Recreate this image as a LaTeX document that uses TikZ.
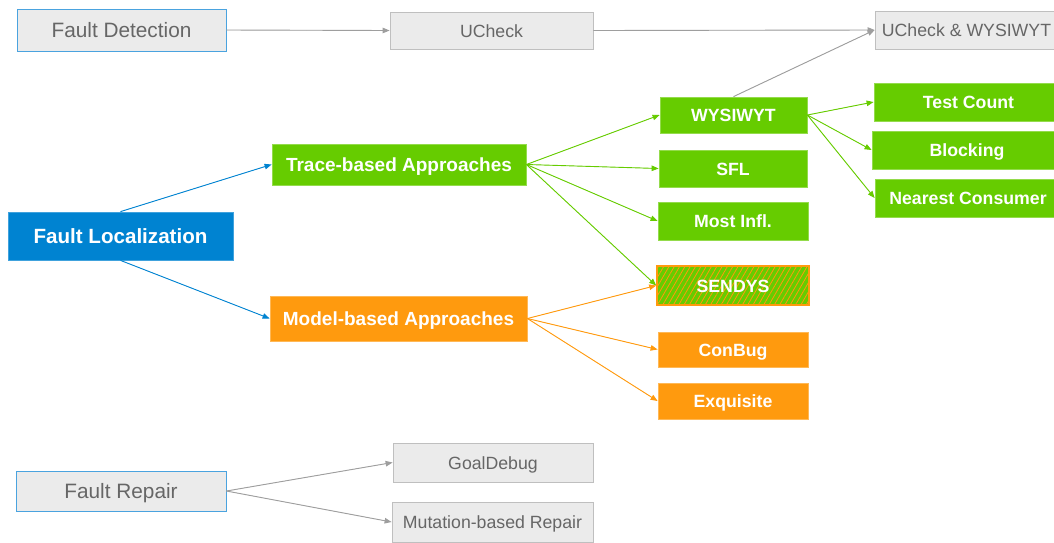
\documentclass[tikz,border=0pt]{standalone}
\usepackage{fontspec}
\setmainfont{Liberation Sans}
\usetikzlibrary{arrows.meta,patterns.meta}
\definecolor{cgreen}{HTML}{66CC00}
\definecolor{corange}{HTML}{FF9A0E}
\definecolor{cblue}{HTML}{0083D1}
\definecolor{cgrayfill}{HTML}{EBEBEB}
\definecolor{cgrayline}{HTML}{BFBFBF}
\definecolor{cgraytext}{HTML}{666666}
\definecolor{cgrayarrow}{HTML}{9E9E9E}
\definecolor{cblueline}{HTML}{4AA3DF}
\tikzset{
  base/.style={rectangle, inner sep=0pt, line width=0.8pt, align=center, text depth=0pt},
  bigtext/.style={font=\fontsize{20.8}{25}\selectfont, text height=15.6pt},
  midtext/.style={font=\bfseries\fontsize{19}{23}\selectfont, text height=14.2pt},
  smalltext/.style={font=\fontsize{17.7}{21}\selectfont, text height=13.3pt},
  smallbold/.style={font=\bfseries\fontsize{17.7}{21}\selectfont, text height=13.3pt},
  topbox/.style={base, bigtext, fill=cgrayfill, draw=cblueline, text=cgraytext},
  graybox/.style={base, smalltext, fill=cgrayfill, draw=cgrayline, text=cgraytext},
  flbox/.style={base, font=\bfseries\fontsize{20.6}{25}\selectfont, text height=15.4pt, fill=cblue, draw=cblue!75!white, text=white},
  greenmid/.style={base, midtext, fill=cgreen, draw=cgreen!70!white, text=white},
  orangemid/.style={base, midtext, fill=corange, draw=corange!70!white, text=white},
  greenbox/.style={base, smallbold, fill=cgreen, draw=cgreen!70!white, text=white},
  orangebox/.style={base, smallbold, fill=corange, draw=corange!70!white, text=white},
  sendysbox/.style={base, smallbold, preaction={fill=cgreen},
     pattern={Lines[angle=60,distance=4.6pt,line width=0.8pt]}, pattern color=corange,
     draw=corange, line width=1.6pt, text=white},
  conn/.style={line width=0.9pt, -{Triangle[length=7pt,width=5.5pt]}},
  grayconn/.style={conn, draw=cgrayarrow, fill=cgrayarrow},
  greenconn/.style={conn, draw=cgreen, fill=cgreen},
  orangeconn/.style={conn, draw=corange, fill=corange},
  blueconn/.style={conn, draw=cblue, fill=cblue}
}
\begin{document}
\begin{tikzpicture}[x=1pt,y=-1pt]
\useasboundingbox (0,0) rectangle (1054,542);
\fill[white] (0,0) rectangle (1054,542);

% top row
\node[topbox, minimum width=209pt, minimum height=42pt] (fd) at (121.5,30) {Fault Detection};
\node[graybox, minimum width=203pt, minimum height=37pt] (uc) at (491.5,30.5) {UCheck};
\node[graybox, minimum width=183pt, minimum height=38pt] (uw) at (966.5,30) {UCheck \& WYSIWYT};

% localization
\node[flbox, minimum width=225pt, minimum height=48pt] (fl) at (120.5,236) {Fault Localization};
\node[greenmid, minimum width=254pt, minimum height=41pt] (tr) at (399,164.5) {Trace-based Approaches};
\node[orangemid, minimum width=257pt, minimum height=45pt] (mb) at (398.5,318.5) {Model-based Approaches};

\node[greenbox, minimum width=147pt, minimum height=36pt] (wy) at (733.5,115) {WYSIWYT};
\node[greenbox, minimum width=148pt, minimum height=37pt] (sfl) at (733,168.5) {SFL};
\node[greenbox, minimum width=150pt, minimum height=38pt] (mi) at (733,221) {Most Infl.};
\node[sendysbox, minimum width=152pt, minimum height=39pt] (se) at (733,285.5) {SENDYS};
\node[orangebox, minimum width=150pt, minimum height=35pt] (cb) at (733,349.5) {ConBug};
\node[orangebox, minimum width=150pt, minimum height=36pt] (ex) at (733,401) {Exquisite};

\node[greenbox, minimum width=189pt, minimum height=38pt] (tc) at (968.5,102) {Test Count};
\node[greenbox, minimum width=190pt, minimum height=38pt] (bl) at (967,150) {Blocking};
\node[greenbox, minimum width=186pt, minimum height=38pt] (nc) at (968,198) {Nearest Consumer};

% repair
\node[topbox, minimum width=210pt, minimum height=40pt] (fr) at (121,491) {Fault Repair};
\node[graybox, minimum width=200pt, minimum height=39pt] (gd) at (493,462.5) {GoalDebug};
\node[graybox, minimum width=201pt, minimum height=40pt] (mr) at (492.5,522) {Mutation-based Repair};

% connectors
\draw[grayconn] (fd.east) -- (uc.west);
\draw[grayconn] (uc.east) -- (uw.west);
\draw[grayconn] (wy.north) -- (uw.west);

\draw[blueconn] (fl.north) -- (tr.west);
\draw[blueconn] (fl.south) -- (mb.west);

\draw[greenconn] (tr.east) -- (wy.west);
\draw[greenconn] (tr.east) -- (sfl.west);
\draw[greenconn] (tr.east) -- (mi.west);
\draw[greenconn] (tr.east) -- (se.west);

\draw[orangeconn] (mb.east) -- (se.west);
\draw[orangeconn] (mb.east) -- (cb.west);
\draw[orangeconn] (mb.east) -- (ex.west);

\draw[greenconn] (wy.east) -- (tc.west);
\draw[greenconn] (wy.east) -- (bl.west);
\draw[greenconn] (wy.east) -- (nc.west);

\draw[grayconn] (fr.east) -- (gd.west);
\draw[grayconn] (fr.east) -- (mr.west);
\end{tikzpicture}
\end{document}
